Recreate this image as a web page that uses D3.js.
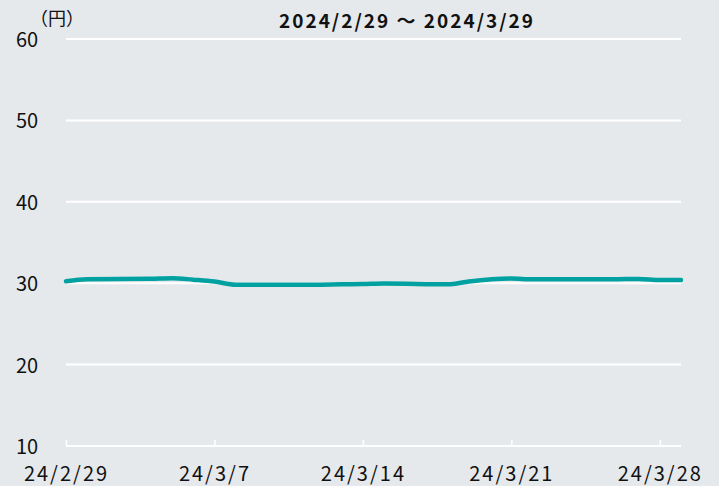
<!DOCTYPE html>
<html>
  <head>
    <meta charset="utf-8">
    <script src="https://d3js.org/d3.v7.min.js"></script>
    <style>
      body {
        margin: 0px;
        background: #e6e9ec;
      }
      text {
        font-family: "Noto Sans CJK JP", "Noto Sans", sans-serif;
        fill: #111;
      }
    </style>
  </head>
  <body>
    <svg width="719" height="486"></svg>
    <script>
      const dates = ['2024-02-29', '2024-03-01', '2024-03-04', '2024-03-05', '2024-03-06',
        '2024-03-07', '2024-03-08', '2024-03-11', '2024-03-12', '2024-03-13', '2024-03-14',
        '2024-03-15', '2024-03-18', '2024-03-19', '2024-03-21', '2024-03-22', '2024-03-25',
        '2024-03-26', '2024-03-27', '2024-03-28', '2024-03-29'];
      const prices = [30.25, 30.49, 30.55, 30.62, 30.43, 30.2, 29.8, 29.8, 29.82, 29.87, 29.9,
        29.96, 29.87, 30.22, 30.58, 30.47, 30.48, 30.49, 30.52, 30.38, 30.38];
      const yTicks = [10, 20, 30, 40, 50, 60];
      const xTickDates = ['2024-02-29', '2024-03-07', '2024-03-14', '2024-03-21', '2024-03-28'];
      const xTickLabels = ['24/2/29', '24/3/7', '24/3/14', '24/3/21', '24/3/28'];
      const title = '2024/2/29 ～ 2024/3/29';
      const unit = '（円）';

      const parse = d3.utcParse('%Y-%m-%d');
      const data = dates.map((d, i) => ({ date: parse(d), value: prices[i] }));

      const svg = d3.select('svg');
      const plotLeft = 66, plotRight = 681, plotTop = 39, plotBottom = 446;

      const xScale = d3.scaleUtc()
        .domain([parse('2024-02-29'), parse('2024-03-29')])
        .range([plotLeft, plotRight]);
      const yScale = d3.scaleLinear()
        .domain([10, 60])
        .range([plotBottom, plotTop]);

      // grid lines
      svg.append('g')
        .selectAll('line')
        .data(yTicks)
        .join('line')
          .attr('x1', plotLeft)
          .attr('x2', plotRight)
          .attr('y1', d => yScale(d))
          .attr('y2', d => yScale(d))
          .attr('stroke', '#fff')
          .attr('stroke-width', 2);

      // y labels
      svg.append('g')
        .selectAll('text')
        .data(yTicks)
        .join('text')
          .attr('x', 16)
          .attr('y', d => yScale(d) + 8)
          .attr('font-size', 20)
          .text(d => d);

      // x axis ticks
      const xAxis = d3.axisBottom(xScale)
        .tickValues(xTickDates.map(parse))
        .tickFormat((d, i) => xTickLabels[i])
        .tickSize(-6)
        .tickPadding(21);
      const xAxisG = svg.append('g')
        .attr('transform', `translate(0,${plotBottom})`)
        .call(xAxis);
      xAxisG.select('.domain').remove();
      xAxisG.selectAll('.tick line').attr('stroke', '#fff').attr('stroke-width', 1.5);
      xAxisG.selectAll('.tick text')
        .attr('font-size', 20)
        .attr('letter-spacing', 2)
        .attr('fill', '#111')
        .attr('font-family', '"Noto Sans CJK JP", sans-serif');

      const line = d3.line()
        .x(d => xScale(d.date))
        .y(d => yScale(d.value))
        .curve(d3.curveMonotoneX);

      svg.append('path')
        .datum(data)
        .attr('fill', 'none')
        .attr('stroke', '#00a1a0')
        .attr('stroke-width', 4.5)
        .attr('stroke-linecap', 'round')
        .attr('d', line);

      svg.append('text')
        .attr('x', 30)
        .attr('y', 25)
        .attr('font-size', 18)
        .text(unit);

      svg.append('text')
        .attr('x', 407)
        .attr('y', 28)
        .attr('text-anchor', 'middle')
        .attr('font-size', 19)
        .attr('font-weight', 'bold')
        .attr('letter-spacing', 2)
        .text(title);
    </script>
  </body>
</html>
